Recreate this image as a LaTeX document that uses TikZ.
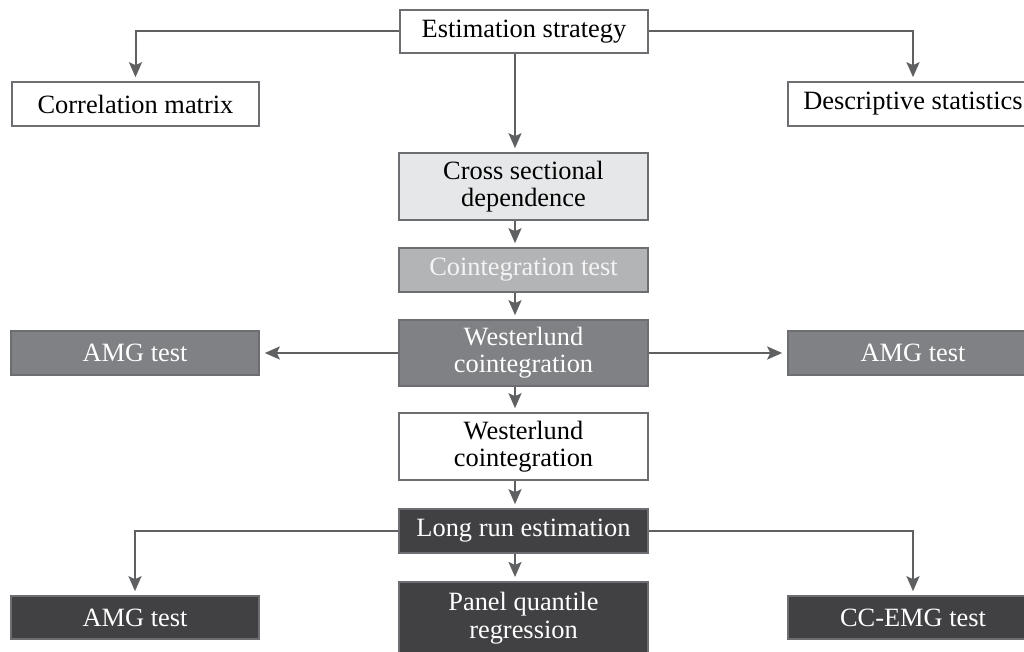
\documentclass[tikz,border=0pt]{standalone}
\usepackage{fontspec}
\setmainfont{Liberation Serif}
\usetikzlibrary{arrows.meta,calc}
\definecolor{linegray}{HTML}{5F6062}
\definecolor{edgegray}{HTML}{6D6E71}
\definecolor{palefill}{HTML}{E6E7E8}
\definecolor{midfill}{HTML}{B3B4B6}
\definecolor{darkfill}{HTML}{808184}
\definecolor{deepfill}{HTML}{414042}
\definecolor{softwhite}{HTML}{F4F4F4}
\begin{document}
\begin{tikzpicture}[x=1pt,y=-1pt,
  box/.style={draw=edgegray, line width=1.6pt, inner sep=0pt, align=center,
    font=\fontsize{26.4}{27.2}\selectfont, minimum width=249pt, minimum height=44pt},
  whitebox/.style={box, fill=white, text=black},
  palebox/.style={box, fill=palefill, text=black},
  midbox/.style={box, fill=midfill, text=softwhite},
  darkbox/.style={box, fill=darkfill, text=white},
  deepbox/.style={box, fill=deepfill, text=white},
  conn/.style={draw=linegray, line width=2pt,
    -{Stealth[length=15pt,width=13pt,inset=3pt]}, shorten >=4pt}
]
\useasboundingbox (0,0) rectangle (1024,652);

% top level
\node[whitebox, minimum width=248pt, minimum height=43pt] (est) at (524,31.5) {Estimation strategy};
\node[whitebox, minimum width=247pt] (corr) at (135.5,104) {Correlation matrix};
\node[whitebox, minimum width=250pt] (desc) at (913,104) {Descriptive statistics};

% main column
\node[palebox, minimum height=67pt] (cross) at (523.5,186.5) {Cross sectional\\dependence};
\node[midbox] (coint) at (523.5,270) {Cointegration test};
\node[darkbox, minimum height=66pt] (westA) at (523.5,353) {Westerlund\\cointegration};
\node[whitebox, minimum height=67pt] (westB) at (523.5,446.5) {Westerlund\\cointegration};
\node[deepbox] (longrun) at (523.5,531) {Long run estimation};
\node[deepbox, minimum height=80pt, anchor=north] (panel) at (523.5,581) {};
\node[text=white, align=center, inner sep=0pt, font=\fontsize{26.4}{28}\selectfont]
  (paneltext) at (523.5,618) {Panel quantile\\regression};

% side boxes
\node[darkbox, minimum width=248pt] (amgL) at (135,353) {AMG test};
\node[darkbox, minimum width=250pt] (amgR) at (913,353) {AMG test};
\node[deepbox, minimum width=248pt, minimum height=43pt] (amgB) at (135,617.5) {AMG test};
\node[deepbox, minimum width=250pt, minimum height=43pt] (ccemg) at (913,617.5) {CC-EMG test};

% connectors
\coordinate (ax) at (515,0);
\draw[conn] (est.west) -| (corr.north);
\draw[conn] (est.east) -| (desc.north);
\draw[conn] (est.south -| ax) -- (cross.north -| ax);
\draw[conn] (cross.south -| ax) -- (coint.north -| ax);
\draw[conn] (coint.south -| ax) -- (westA.north -| ax);
\draw[conn, shorten >=5pt] (westA.west) -- (amgL.east);
\draw[conn, shorten >=5pt] (westA.east) -- (amgR.west);
\draw[conn] (westA.south -| ax) -- (westB.north -| ax);
\draw[conn] (westB.south -| ax) -- (longrun.north -| ax);
\draw[conn] (longrun.south -| ax) -- (panel.north -| ax);
\draw[conn] (longrun.west) -| (amgB.north);
\draw[conn] (longrun.east) -| (ccemg.north);
\end{tikzpicture}
\end{document}
